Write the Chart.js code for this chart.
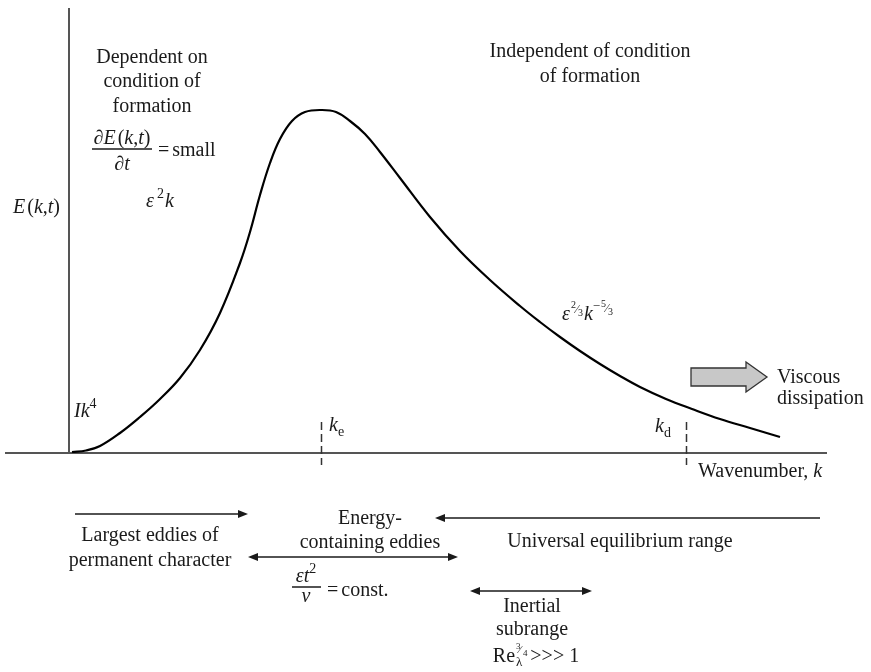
<!DOCTYPE html>
<html>
<head>
<meta charset="utf-8">
<script src="https://cdn.jsdelivr.net/npm/chart.js@4.4.1/dist/chart.umd.min.js"></script>
<style>
  html, body { margin: 0; padding: 0; background: #fff; }
  #wrap { width: 871px; height: 672px; }
</style>
</head>
<body>
<div id="wrap"><canvas id="c"></canvas></div>
<script>
// spectrum E(k,t) (arbitrary units, k = 0 at the E axis)
var waveNumber = [0.3, 1.7, 3.1, 5.1, 7.1, 9.0, 11.1, 13.1, 15.1, 17.1, 18.1, 19.1, 20.1, 21.1, 22.3, 23.6, 25.3,
                  26.7, 28.1, 29.6, 31.1, 33.1, 36.1, 39.1, 42.1, 45.1, 47.1, 49.1, 51.1, 53.1, 55.1,
                  57.1, 59.7, 62.3, 65.1, 68.1, 71.1];
var energy     = [0.1, 0.25, 0.7, 2.0, 3.6, 5.3, 7.5, 10.3, 14.0, 19.0, 22.1, 25.8, 29.0, 31.4, 33.2, 34.1, 34.3,
                  34.1, 33.2, 31.9, 30.1, 27.5, 23.6, 20.2, 17.3, 14.7, 13.1, 11.6, 10.2, 8.9, 7.7,
                  6.6, 5.4, 4.4, 3.4, 2.5, 1.6];
var ke = 25.2;   // energy containing wavenumber
var kd = 61.7;   // dissipation wavenumber

var points = waveNumber.map(function (k, i) { return { x: k, y: energy[i] }; });

var SERIF = '"Liberation Serif", "DejaVu Serif", serif';
var INK = '#1a1a1a';

function fnt(p) {
  return (p.i ? 'italic ' : '') + (p.s || 20) + 'px ' + SERIF;
}

// draw a row of text pieces (italic / size / vertical shift) on one baseline
function rich(ctx, x, y, parts, align) {
  var w = 0, widths = [];
  parts.forEach(function (p) {
    ctx.font = fnt(p);
    var pw = ctx.measureText(p.t).width;
    if (p.ow !== undefined) pw = p.ow;
    widths.push(pw);
    w += pw + (p.g || 0);
  });
  var cx = align === 'center' ? x - w / 2 : (align === 'right' ? x - w : x);
  parts.forEach(function (p, n) {
    ctx.font = fnt(p);
    ctx.fillText(p.t, cx + (p.dx || 0), y + (p.dy || 0));
    cx += widths[n] + (p.g || 0);
  });
  return w;
}

function head(ctx, x, y, dir) {
  ctx.beginPath();
  ctx.moveTo(x, y);
  ctx.lineTo(x - dir * 10, y - 4);
  ctx.lineTo(x - dir * 10, y + 4);
  ctx.closePath();
  ctx.fill();
}

function arrow(ctx, x1, x2, y, left, right) {
  ctx.beginPath();
  ctx.moveTo(x1 + (left ? 6 : 0), y);
  ctx.lineTo(x2 - (right ? 6 : 0), y);
  ctx.stroke();
  if (left) head(ctx, x1, y, -1);
  if (right) head(ctx, x2, y, 1);
}

var annotate = {
  id: 'annotate',
  beforeDatasetsDraw: function (chart) {
    var ctx = chart.ctx, xs = chart.scales.x, ys = chart.scales.y;
    var x0 = xs.getPixelForValue(0), y0 = ys.getPixelForValue(0);
    ctx.save();
    // axes
    ctx.strokeStyle = '#555';
    ctx.lineWidth = 2;
    ctx.beginPath();
    ctx.moveTo(x0, 8); ctx.lineTo(x0, y0);
    ctx.moveTo(5, y0); ctx.lineTo(827, y0);
    ctx.stroke();
    // ke, kd markers
    ctx.strokeStyle = '#333';
    ctx.lineWidth = 1.5;
    ctx.setLineDash([8, 4]);
    [ke, kd].forEach(function (k) {
      var px = Math.round(xs.getPixelForValue(k)) + 0.5;
      ctx.beginPath(); ctx.moveTo(px, y0 - 31); ctx.lineTo(px, y0 + 12); ctx.stroke();
    });
    ctx.setLineDash([]);
    ctx.restore();
  },
  afterDatasetsDraw: function (chart) {
    var ctx = chart.ctx, xs = chart.scales.x, ys = chart.scales.y;
    var y0 = ys.getPixelForValue(0);
    ctx.save();
    ctx.fillStyle = INK;
    ctx.strokeStyle = INK;
    ctx.lineWidth = 1.5;
    ctx.textBaseline = 'alphabetic';

    // upper left block
    rich(ctx, 152, 63, [{ t: 'Dependent on' }], 'center');
    rich(ctx, 152, 87, [{ t: 'condition of' }], 'center');
    rich(ctx, 152, 112, [{ t: 'formation' }], 'center');
    rich(ctx, 122, 144, [{ t: '\u2202' }, { t: 'E', i: 1, g: 2 }, { t: '(' }, { t: 'k', i: 1 }, { t: ',' }, { t: 't', i: 1 }, { t: ')' }], 'center');
    ctx.beginPath(); ctx.moveTo(92, 149); ctx.lineTo(152, 149); ctx.stroke();
    rich(ctx, 122, 170, [{ t: '\u2202' }, { t: 't', i: 1 }], 'center');
    rich(ctx, 158, 156, [{ t: '=', g: 3 }, { t: 'small' }], 'left');

    // axis title
    rich(ctx, 13, 213, [{ t: 'E', i: 1, g: 2 }, { t: '(' }, { t: 'k', i: 1 }, { t: ',' }, { t: 't', i: 1 }, { t: ')' }], 'left');

    // upper right block
    rich(ctx, 590, 57, [{ t: 'Independent of condition' }], 'center');
    rich(ctx, 590, 82, [{ t: 'of formation' }], 'center');

    // asymptotes
    rich(ctx, 146, 207, [{ t: '\u03B5', i: 1, g: 3 }, { t: '2', s: 14, dy: -9, g: 1 }, { t: 'k', i: 1 }], 'left');
    rich(ctx, 74, 417, [{ t: 'Ik', i: 1 }, { t: '4', s: 14, dy: -9 }], 'left');
    rich(ctx, 562, 320, [
      { t: '\u03B5', i: 1, g: 1 },
      { t: '2', s: 10, dy: -12 }, { t: '\u2044', s: 12, dy: -7 }, { t: '3', s: 10, dy: -4, g: 1 },
      { t: 'k', i: 1 },
      { t: '\u2212', s: 13, dy: -10, g: 1 },
      { t: '5', s: 10, dy: -13 }, { t: '\u2044', s: 12, dy: -8 }, { t: '3', s: 10, dy: -5 }
    ], 'left');

    // wavenumber marks
    var pe = xs.getPixelForValue(ke), pd = xs.getPixelForValue(kd);
    rich(ctx, pe + 8, y0 - 22, [{ t: 'k', i: 1 }, { t: 'e', s: 14, dy: 5 }], 'left');
    rich(ctx, pd - 31, y0 - 21, [{ t: 'k', i: 1 }, { t: 'd', s: 14, dy: 5 }], 'left');
    rich(ctx, 698, 477, [{ t: 'Wavenumber, ' }, { t: 'k', i: 1 }], 'left');

    // viscous dissipation block arrow
    ctx.beginPath();
    ctx.moveTo(691, 368); ctx.lineTo(746, 368); ctx.lineTo(746, 362);
    ctx.lineTo(767, 377); ctx.lineTo(746, 392); ctx.lineTo(746, 386);
    ctx.lineTo(691, 386); ctx.closePath();
    ctx.fillStyle = '#c8c8c8'; ctx.fill();
    ctx.strokeStyle = '#333'; ctx.lineWidth = 1.3; ctx.stroke();
    ctx.fillStyle = INK; ctx.strokeStyle = INK; ctx.lineWidth = 1.5;
    rich(ctx, 777, 383, [{ t: 'Viscous' }], 'left');
    rich(ctx, 777, 404, [{ t: 'dissipation' }], 'left');

    // ranges below the axis
    arrow(ctx, 75, 248, 514, false, true);
    rich(ctx, 150, 541, [{ t: 'Largest eddies of' }], 'center');
    rich(ctx, 150, 566, [{ t: 'permanent character' }], 'center');

    rich(ctx, 370, 524, [{ t: 'Energy-' }], 'center');
    rich(ctx, 370, 548, [{ t: 'containing eddies' }], 'center');
    arrow(ctx, 248, 458, 557, true, true);
    rich(ctx, 306, 582, [{ t: '\u03B5t', i: 1 }, { t: '2', s: 14, dy: -9 }], 'center');
    ctx.beginPath(); ctx.moveTo(292, 587); ctx.lineTo(321, 587); ctx.stroke();
    rich(ctx, 306, 602, [{ t: '\u03BD', i: 1 }], 'center');
    rich(ctx, 327, 596, [{ t: '=', g: 3 }, { t: 'const.' }], 'left');

    arrow(ctx, 435, 820, 518, true, false);
    rich(ctx, 620, 547, [{ t: 'Universal equilibrium range' }], 'center');

    arrow(ctx, 470, 592, 591, true, true);
    rich(ctx, 532, 612, [{ t: 'Inertial' }], 'center');
    rich(ctx, 532, 635, [{ t: 'subrange' }], 'center');
    rich(ctx, 536, 662, [
      { t: 'Re', g: 1 },
      { t: '3', s: 9, dy: -13, ow: 0 }, { t: '\u2044', s: 11, dx: 3, dy: -9, ow: 0 }, { t: '4', s: 9, dx: 7, dy: -6, ow: 0 },
      { t: '\u03BB', s: 13, dy: 4, g: 8 },
      { t: '>>> 1' }
    ], 'center');
    ctx.restore();
  }
};

new Chart(document.getElementById('c'), {
  type: 'line',
  data: {
    datasets: [{
      label: 'E(k,t)',
      data: points,
      borderColor: '#000',
      borderWidth: 2.2,
      pointRadius: 0,
      fill: false,
      tension: 0.4
    }]
  },
  options: {
    responsive: true,
    maintainAspectRatio: false,
    animation: false,
    layout: { padding: 0 },
    plugins: { legend: { display: false }, tooltip: { enabled: false } },
    scales: {
      x: { type: 'linear', display: false, min: -6.9, max: 80.2 },
      y: { type: 'linear', display: false, min: -21.9, max: 45.3 }
    }
  },
  plugins: [annotate]
});
</script>
</body>
</html>
